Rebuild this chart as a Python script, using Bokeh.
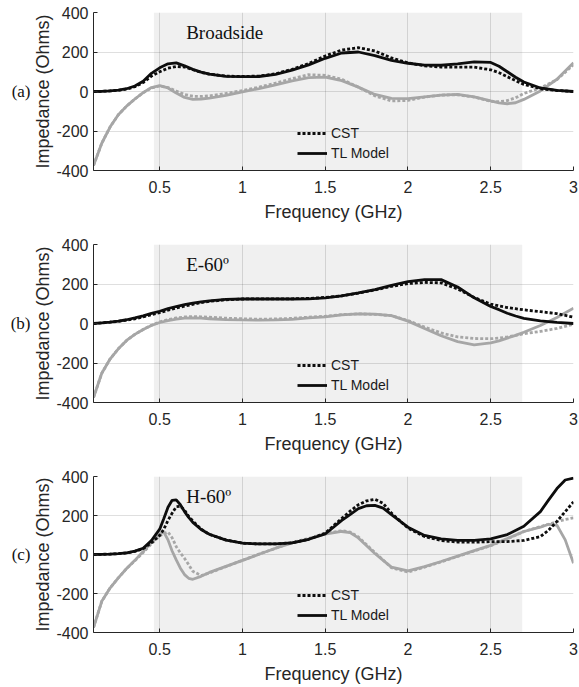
from bokeh.plotting import figure
from bokeh.layouts import column
from bokeh.models import BoxAnnotation, Label, FixedTicker, Range1d, LinearAxis
from bokeh.embed import file_html
from bokeh.resources import INLINE

# ---------------- data ----------------
X_TICKS = [0.5, 1, 1.5, 2, 2.5, 3]
X_TICK_LABELS = ["0.5", "1", "1.5", "2", "2.5", "3"]
Y_TICKS = [-400, -200, 0, 200, 400]
Y_TICK_LABELS = ["-400", "-200", "0", "200", "400"]
BAND = [0.465, 2.69]          # operating band (GHz), shaded
PANEL_TAGS = ["(a)", "(b)", "(c)"]
PANEL_TITLES = ["Broadside", "E-60º", "H-60º"]
SERIES = ["CST", "TL Model"]

FREQ_A = [0.1, 0.15, 0.2, 0.25, 0.3, 0.35, 0.4, 0.45, 0.5, 0.55, 0.6, 0.65, 0.7, 0.75, 0.8,
          0.9, 1.0, 1.1, 1.2, 1.3, 1.4, 1.5, 1.6, 1.7, 1.8, 1.9, 2.0, 2.1, 2.2, 2.3, 2.4, 2.5,
          2.55, 2.6, 2.65, 2.7, 2.8, 2.9, 3.0]
TL_RE_A = [0, 1, 3, 7, 14, 28, 52, 92, 120, 140, 145, 130, 112, 98, 88,
           77, 75, 76, 87, 108, 135, 168, 195, 200, 182, 158, 143, 134, 133, 140, 150, 147,
           128, 100, 72, 48, 18, 6, 0]
CST_RE_A = [0, 1, 3, 6, 12, 24, 45, 78, 100, 118, 127, 124, 110, 97, 88,
            78, 76, 78, 90, 112, 142, 180, 210, 222, 205, 170, 145, 130, 124, 123, 123, 110,
            95, 75, 55, 36, 14, 5, 0]
TL_IM_A = [-375, -262, -180, -118, -74, -38, -6, 20, 30, 18, -8, -30, -40, -38, -33,
           -20, -2, 15, 33, 54, 70, 73, 55, 22, -15, -35, -36, -27, -18, -15, -27, -48,
           -58, -62, -57, -40, 3, 62, 145]
CST_IM_A = [-375, -262, -180, -118, -74, -38, -6, 18, 28, 20, 2, -15, -24, -25, -22,
            -10, 5, 22, 42, 65, 85, 82, 62, 22, -22, -48, -45, -28, -18, -17, -28, -50,
            -52, -46, -32, -10, 18, 60, 135]

FREQ_B = FREQ_A
TL_RE_B = [0, 3, 7, 12, 19, 28, 39, 51, 62, 75, 86, 96, 103, 110, 115,
           122, 124, 124, 124, 124, 125, 130, 140, 155, 172, 193, 212, 222, 222, 185, 130, 86,
           70, 52, 38, 26, 13, 6, 0]
CST_RE_B = [0, 3, 7, 11, 17, 24, 33, 44, 55, 67, 78, 88, 97, 106, 112,
            120, 124, 125, 125, 125, 127, 132, 140, 154, 170, 188, 202, 208, 206, 175, 132, 98,
            89, 81, 75, 69, 60, 50, 32]
TL_IM_B = [-375, -252, -180, -128, -86, -55, -30, -10, 5, 15, 22, 27, 28, 27, 24,
           20, 18, 17, 18, 21, 28, 34, 44, 49, 47, 40, 12, -25, -62, -92, -108, -98,
           -88, -74, -60, -44, -10, 30, 78]
CST_IM_B = [-375, -252, -180, -128, -86, -55, -30, -9, 8, 20, 28, 33, 35, 34, 32,
            27, 24, 22, 23, 26, 32, 37, 45, 49, 46, 40, 15, -18, -48, -68, -76, -77,
            -74, -68, -60, -52, -40, -25, -3]

FREQ_C = [0.1, 0.15, 0.2, 0.25, 0.3, 0.35, 0.4, 0.45, 0.5,
          0.525, 0.55, 0.575, 0.6, 0.625, 0.65, 0.675, 0.7,
          0.75, 0.8, 0.9, 1.0, 1.1, 1.2, 1.3, 1.4, 1.5,
          1.6, 1.65, 1.7, 1.75, 1.8, 1.85, 1.9,
          2.0, 2.1, 2.2, 2.3, 2.4, 2.5, 2.6, 2.7, 2.8,
          2.85, 2.9, 2.95, 3.0]
TL_RE_C = [0, 1, 2, 4, 8, 17, 32, 72, 130,
           185, 242, 278, 280, 255, 220, 190, 165,
           128, 104, 74, 58, 54, 54, 60, 78, 105,
           175, 205, 235, 250, 252, 238, 205,
           140, 98, 80, 72, 72, 80, 102, 145, 220,
           280, 338, 382, 392]
CST_RE_C = [0, 1, 2, 4, 8, 16, 30, 60, 98,
            130, 175, 212, 245, 248, 228, 195, 172,
            130, 103, 75, 58, 54, 54, 60, 78, 110,
            185, 222, 255, 275, 283, 262, 212,
            135, 92, 72, 64, 63, 66, 66, 72, 92,
            125, 170, 220, 270]
TL_IM_C = [-375, -240, -172, -120, -72, -30, 15, 62, 105,
           115, 75, 18, -28, -70, -103, -122, -127,
           -112, -92, -61, -30, 1, 32, 60, 78, 105,
           118, 112, 85, 45, 5, -30, -65,
           -84, -62, -36, -8, 20, 47, 82, 118, 140,
           155, 150, 75, -45]
CST_IM_C = [-375, -240, -172, -120, -72, -32, 10, 55, 95,
            108, 115, 86, 40, 8, -20, -52, -86,
            -108, -95, -62, -30, 2, 32, 62, 82, 108,
            122, 115, 90, 50, 10, -28, -68,
            -90, -65, -38, -10, 18, 45, 80, 118, 143,
            155, 168, 180, 188]

PANELS = [
    (FREQ_A, TL_RE_A, CST_RE_A, TL_IM_A, CST_IM_A),
    (FREQ_B, TL_RE_B, CST_RE_B, TL_IM_B, CST_IM_B),
    (FREQ_C, TL_RE_C, CST_RE_C, TL_IM_C, CST_IM_C),
]

# ---------------- style ----------------
AX = "#262626"
GRAY = "#a6a6a6"
BLACK = "#0d0d0d"
LW = 2.8
DOT = "3 2"
SIZES = [(232, 12, 62), (232, 12, 62), (222, 12, 52)]  # height, top border, bottom border


def make_panel(i):
    freq, tl_re, cst_re, tl_im, cst_im = PANELS[i]
    h, top, bottom = SIZES[i]
    p = figure(width=579, height=h, output_backend="svg", toolbar_location=None,
               x_range=Range1d(0.1, 3.0), y_range=Range1d(-400, 400),
               min_border_left=93, min_border_right=6,
               min_border_top=top, min_border_bottom=bottom)
    p.outline_line_color = None
    p.background_fill_color = "white"
    p.border_fill_color = "white"

    p.add_layout(BoxAnnotation(left=BAND[0], right=BAND[1], fill_color="#f0f0f0",
                               fill_alpha=1.0, line_color=None, level="image"))

    p.line(freq, cst_im, line_color=GRAY, line_width=LW, line_dash=DOT, line_cap="butt")
    p.line(freq, tl_im, line_color=GRAY, line_width=LW)
    p.line(freq, cst_re, line_color=BLACK, line_width=LW, line_dash=DOT, line_cap="butt",
           legend_label=SERIES[0])
    p.line(freq, tl_re, line_color=BLACK, line_width=LW, legend_label=SERIES[1])

    p.xaxis.ticker = FixedTicker(ticks=X_TICKS)
    p.yaxis.ticker = FixedTicker(ticks=Y_TICKS)
    p.xaxis.major_label_overrides = dict(zip(X_TICKS, X_TICK_LABELS))
    p.yaxis.major_label_overrides = dict(zip(Y_TICKS, Y_TICK_LABELS))
    p.xaxis.axis_label = "Frequency (GHz)"
    p.yaxis.axis_label = "Impedance (Ohms)"
    for ax in (p.xaxis[0], p.yaxis[0]):
        ax.axis_line_color = AX
        ax.axis_line_width = 1
        ax.major_tick_line_color = AX
        ax.major_tick_in = 4
        ax.major_tick_out = 0
        ax.minor_tick_line_color = None
        ax.major_label_text_font = "Liberation Sans"
        ax.major_label_text_font_size = "16px"
        ax.major_label_text_color = AX
        ax.axis_label_text_font = "Liberation Sans"
        ax.axis_label_text_font_size = "18px"
        ax.axis_label_text_font_style = "normal"
        ax.axis_label_text_color = AX
    p.xaxis.major_label_standoff = 10
    p.xaxis.axis_label_standoff = 6
    p.yaxis.major_label_standoff = 5
    p.yaxis.axis_label_standoff = 0

    for g in (p.xgrid[0], p.ygrid[0]):
        g.grid_line_color = AX
        g.grid_line_alpha = 0.15
        g.grid_line_width = 1

    # panel tag "(a)" etc. as an outer, line-less axis on the left
    tag_axis = LinearAxis(ticker=FixedTicker(ticks=[0]),
                          major_label_overrides={0: PANEL_TAGS[i]},
                          axis_line_color=None, major_tick_line_color=None,
                          minor_tick_line_color=None,
                          major_tick_in=0, major_tick_out=0,
                          major_label_text_font="Liberation Serif",
                          major_label_text_font_size="17px",
                          major_label_text_color="#111111",
                          major_label_standoff=0)
    p.add_layout(tag_axis, "left")

    p.add_layout(Label(x=0.66, y=300, text=PANEL_TITLES[i], text_font="Liberation Serif",
                       text_font_size="19px", text_color="#111111",
                       text_align="left", text_baseline="middle"))

    leg = p.legend[0]
    leg.location = (204, 7)
    leg.padding = 0
    leg.spacing = 0
    leg.margin = 0
    leg.label_height = 20
    leg.glyph_height = 20
    leg.glyph_width = 30
    leg.label_standoff = 4
    leg.border_line_color = None
    leg.background_fill_alpha = 0
    leg.label_text_font = "Liberation Sans"
    leg.label_text_font_size = "14px"
    leg.label_text_color = "#1a1a1a"
    return p


layout = column(*[make_panel(i) for i in range(3)], spacing=0)
open("out.html", "w").write(file_html(layout, INLINE))
